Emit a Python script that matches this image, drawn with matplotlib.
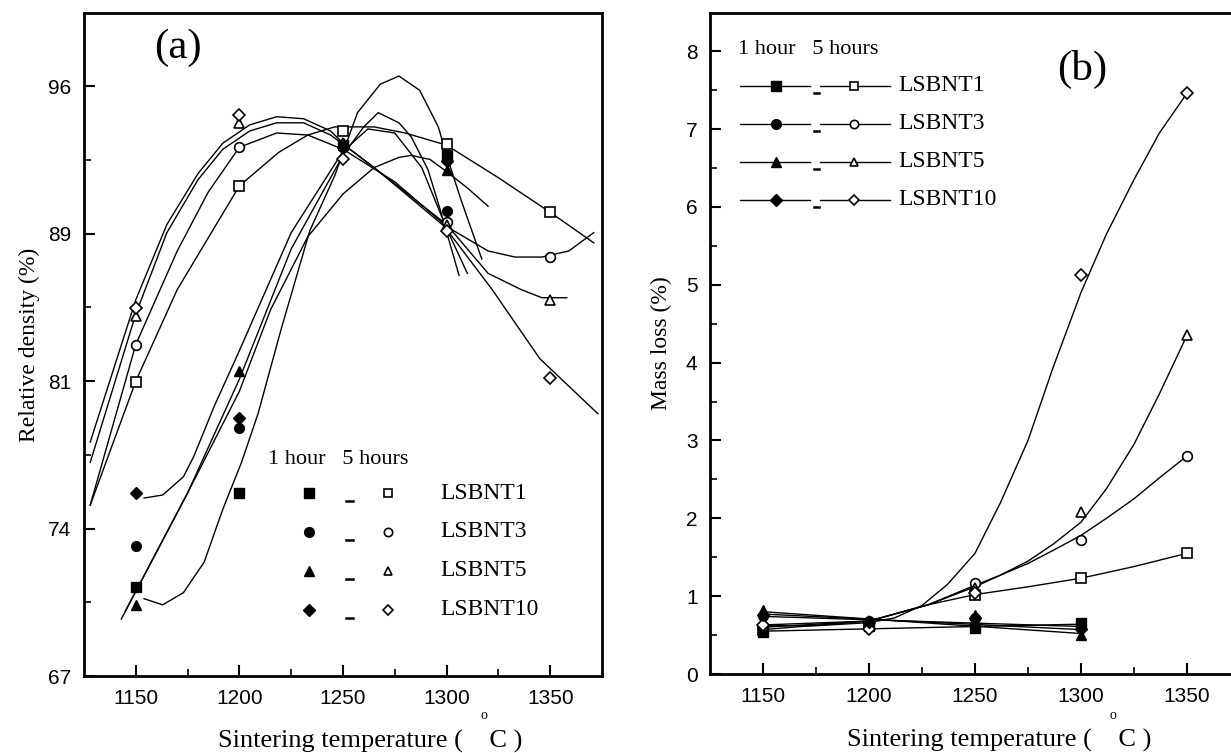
import numpy as np
import matplotlib
matplotlib.use("Agg")
import matplotlib.pyplot as plt
from matplotlib import font_manager

serif = ["Liberation Serif", "DejaVu Serif"]
names = {f.name for f in font_manager.fontManager.ttflist}
tick_font = "Liberation Sans Narrow" if "Liberation Sans Narrow" in names else "Liberation Sans"

# ---- data ----
temps = [1150, 1200, 1250, 1300, 1350]
temps_1h = [1150, 1200, 1250, 1300]
names_s = ["LSBNT1", "LSBNT3", "LSBNT5", "LSBNT10"]
markers = ["s", "o", "^", "D"]

# (a) relative density (%)
dens_1h = {
    "LSBNT1": [71.4, 76.0, 93.1, 92.6],
    "LSBNT3": [73.4, 79.2, 93.0, 89.85],
    "LSBNT5": [70.5, 82.0, 93.2, 91.9],
    "LSBNT10": [76.0, 79.7, 93.0, 92.3],
}
dens_5h = {
    "LSBNT1": [81.45, 91.1, 93.8, 93.15, 89.8],
    "LSBNT3": [83.3, 93.0, 93.0, 89.3, 87.6],
    "LSBNT5": [84.7, 94.2, 93.2, 89.2, 85.5],
    "LSBNT10": [85.1, 94.6, 92.4, 88.9, 81.65],
}
# fitted curves of (a), vertices
fit_a_1h = {
    "LSBNT1": ([1154, 1163, 1173, 1183, 1192, 1201, 1209, 1220, 1234, 1246, 1257, 1268, 1277, 1287, 1296, 1300, 1307, 1317],
               [70.8, 70.5, 71.1, 72.6, 75.2, 77.5, 79.9, 84.0, 88.9, 91.6, 94.7, 96.1, 96.5, 95.8, 94.0, 92.6, 90.4, 87.5]),
    "LSBNT3": ([1145, 1175, 1200, 1225, 1250, 1260, 1267, 1277, 1283, 1291, 1297, 1306],
               [70.2, 76.0, 81.6, 88.0, 92.6, 94.0, 94.7, 94.2, 93.5, 91.9, 89.9, 86.7]),
    "LSBNT5": ([1143, 1175, 1200, 1215, 1233, 1250, 1265, 1277, 1283, 1292, 1300, 1310, 1320],
               [69.8, 76.0, 81.0, 85.0, 88.6, 90.7, 92.0, 92.5, 92.6, 92.4, 91.8, 91.0, 90.1]),
    "LSBNT10": ([1154, 1163, 1173, 1178, 1188, 1200, 1225, 1250, 1262, 1275, 1288, 1300, 1310],
                [75.75, 75.9, 76.8, 77.8, 80.3, 83.0, 88.8, 92.8, 93.9, 93.7, 92.0, 89.0, 86.8]),
}
fit_a_5h = {
    "LSBNT1": ([1128, 1150, 1170, 1200, 1219, 1233, 1246, 1265, 1280, 1300, 1325, 1350, 1371],
               [75.4, 81.5, 86.0, 91.1, 92.75, 93.6, 94.0, 94.0, 93.7, 93.1, 91.5, 89.8, 88.3]),
    "LSBNT3": ([1128, 1150, 1170, 1185, 1200, 1218, 1233, 1250, 1275, 1300, 1320, 1333, 1346, 1359, 1371],
               [75.4, 83.3, 87.9, 90.8, 93.0, 93.7, 93.6, 92.9, 91.3, 89.1, 87.9, 87.6, 87.6, 87.9, 88.8]),
    "LSBNT5": ([1128, 1150, 1165, 1180, 1192, 1205, 1218, 1231, 1244, 1256, 1270, 1285, 1300, 1320, 1336, 1346, 1358],
               [77.5, 84.8, 88.8, 91.4, 92.9, 93.8, 94.2, 94.2, 93.6, 92.7, 91.6, 90.4, 89.2, 86.8, 86.0, 85.6, 85.6]),
    "LSBNT10": ([1128, 1150, 1165, 1180, 1192, 1205, 1218, 1231, 1244, 1252, 1265, 1278, 1299, 1322, 1345, 1373],
                [78.5, 85.5, 89.2, 91.7, 93.2, 94.1, 94.5, 94.4, 93.8, 93.0, 92.0, 90.9, 89.1, 86.0, 82.6, 79.9]),
}

# (b) mass loss (%)
loss_1h = {
    "LSBNT1": [0.54, 0.62, 0.59, 0.65],
    "LSBNT3": [0.75, 0.68, 0.72, 0.60],
    "LSBNT5": [0.82, 0.68, 0.76, 0.50],
    "LSBNT10": [0.76, 0.67, 0.72, 0.58],
}
loss_5h = {
    "LSBNT1": [0.56, 0.64, 1.02, 1.23, 1.55],
    "LSBNT3": [0.62, 0.66, 1.17, 1.72, 2.80],
    "LSBNT5": [0.65, 0.68, 1.10, 2.08, 4.35],
    "LSBNT10": [0.63, 0.58, 1.04, 5.12, 7.46],
}
fit_b_1h = {
    "LSBNT1": ([1150, 1300], [0.55, 0.64]),
    "LSBNT3": ([1150, 1300], [0.77, 0.57]),
    "LSBNT5": ([1150, 1300], [0.80, 0.52]),
    "LSBNT10": ([1150, 1300], [0.74, 0.61]),
}
fit_b_5h = {
    "LSBNT1": ([1150, 1200, 1228, 1250, 1275, 1300, 1325, 1350],
               [0.57, 0.68, 0.89, 1.02, 1.12, 1.23, 1.38, 1.55]),
    "LSBNT3": ([1150, 1200, 1228, 1250, 1262, 1275, 1287, 1300, 1312, 1325, 1337, 1350],
               [0.60, 0.68, 0.89, 1.14, 1.27, 1.42, 1.59, 1.78, 2.0, 2.25, 2.52, 2.80]),
    "LSBNT5": ([1150, 1200, 1228, 1250, 1262, 1275, 1287, 1300, 1312, 1325, 1337, 1350],
               [0.63, 0.68, 0.89, 1.12, 1.27, 1.45, 1.67, 1.95, 2.38, 2.95, 3.6, 4.35]),
    "LSBNT10": ([1150, 1175, 1200, 1212, 1225, 1237, 1250, 1262, 1275, 1287, 1300, 1312, 1325, 1337, 1350],
                [0.62, 0.62, 0.66, 0.72, 0.88, 1.15, 1.55, 2.2, 3.0, 3.95, 4.9, 5.65, 6.35, 6.95, 7.46]),
}

# ---- figure ----
fig = plt.figure(figsize=(12.31, 7.53), dpi=100)
ax_a = fig.add_axes([84 / 1231, 1 - 676 / 753, 518 / 1231, 663 / 753])
ax_b = fig.add_axes([710 / 1231, 1 - 674 / 753, 530 / 1231, 661 / 753])

ms = 7
for ax in (ax_a, ax_b):
    for sp in ax.spines.values():
        sp.set_linewidth(2.0)
    ax.tick_params(direction="in", which="major", length=8, width=1.5, labelsize=15, pad=9)
    ax.tick_params(direction="in", which="minor", length=5, width=1.2)
    ax.set_xlim(1125, 1375)
    ax.set_xticks([1150, 1200, 1250, 1300, 1350])
    ax.set_xticks([1175, 1225, 1275, 1325], minor=True)
    for lab in ax.get_xticklabels() + ax.get_yticklabels():
        lab.set_fontfamily(tick_font)

# panel (a)
for n, m in zip(names_s, markers):
    ax_a.plot(*fit_a_5h[n], color="black", lw=1.0)
    ax_a.plot(*fit_a_1h[n], color="black", lw=1.0)
for n, m in zip(names_s, markers):
    msz = ms - 1 if m == "D" else ms
    ax_a.plot(temps, dens_5h[n], ls="none", marker=m, ms=msz, mfc="white", mec="black", mew=1.2)
    ax_a.plot(temps_1h, dens_1h[n], ls="none", marker=m, ms=msz, mfc="black", mec="black")

a_ticks = np.linspace(67, 96, 5)
ax_a.set_ylim(67, 99.6)
ax_a.set_yticks(a_ticks)
ax_a.set_yticklabels(["67", "74", "81", "89", "96"], fontfamily=tick_font)
ax_a.set_yticks((a_ticks[:-1] + a_ticks[1:]) / 2, minor=True)
ax_a.text(-0.105, 0.5, "Relative density (%)", transform=ax_a.transAxes, fontsize=17, family=serif,
          rotation=90, ha="center", va="center")
ax_a.text(0.552, -0.098, "Sintering temperature (    C )", transform=ax_a.transAxes, fontsize=19,
          family=serif, ha="center", va="center")
ax_a.text(0.772, -0.060, "o", transform=ax_a.transAxes, fontsize=10, family=serif, ha="center", va="center")
ax_a.text(0.181, 0.947, "(a)", transform=ax_a.transAxes, fontsize=31, family=serif, ha="center", va="center")

ax_a.text(0.355, 0.326, "1 hour   5 hours", transform=ax_a.transAxes, fontsize=16, family=serif, va="center")
for i, (n, m) in enumerate(zip(names_s, markers)):
    y = 0.276 - i * 0.0587
    msz = ms - 1 if m == "D" else ms
    ax_a.plot([0.434], [y], transform=ax_a.transAxes, ls="none", marker=m, ms=msz, mfc="black", mec="black")
    ax_a.plot([0.505, 0.519], [y - 0.012, y - 0.012], transform=ax_a.transAxes, color="black", lw=1.8)
    ax_a.plot([0.587], [y], transform=ax_a.transAxes, ls="none", marker=m, ms=msz - 1, mfc="white", mec="black", mew=1.2)
    ax_a.text(0.687, y, n, transform=ax_a.transAxes, fontsize=17, family=serif, va="center")

# panel (b)
for n, m in zip(names_s, markers):
    ax_b.plot(*fit_b_5h[n], color="black", lw=1.0)
    ax_b.plot(*fit_b_1h[n], color="black", lw=1.0)
for n, m in zip(names_s, markers):
    msz = ms - 1 if m == "D" else ms
    ax_b.plot(temps, loss_5h[n], ls="none", marker=m, ms=msz, mfc="white", mec="black", mew=1.2)
    ax_b.plot(temps_1h, loss_1h[n], ls="none", marker=m, ms=msz, mfc="black", mec="black")

ax_b.set_ylim(0, 8.49)
ax_b.set_yticks(range(0, 9))
ax_b.set_yticks(np.arange(0.5, 8.5, 1.0), minor=True)
for lab in ax_b.get_yticklabels():
    lab.set_fontfamily(tick_font)
ax_b.text(-0.091, 0.5, "Mass loss (%)", transform=ax_b.transAxes, fontsize=17, family=serif,
          rotation=90, ha="center", va="center")
ax_b.text(0.545, -0.1, "Sintering temperature (    C )", transform=ax_b.transAxes, fontsize=19,
          family=serif, ha="center", va="center")
ax_b.text(0.760, -0.0635, "o", transform=ax_b.transAxes, fontsize=10, family=serif, ha="center", va="center")
ax_b.text(0.702, 0.914, "(b)", transform=ax_b.transAxes, fontsize=31, family=serif, ha="center", va="center")

ax_b.text(0.053, 0.9455, "1 hour   5 hours", transform=ax_b.transAxes, fontsize=16, family=serif, va="center")
for i, (n, m) in enumerate(zip(names_s, markers)):
    y = 0.8896 - i * 0.0575
    msz = ms - 1 if m == "D" else ms
    ax_b.plot([0.057, 0.124, 0.189], [y, y, y], transform=ax_b.transAxes, color="black", lw=1.0,
              marker=m, markevery=[1], ms=msz, mfc="black", mec="black")
    ax_b.plot([0.196, 0.206], [y - 0.01, y - 0.01], transform=ax_b.transAxes, color="black", lw=1.8)
    ax_b.plot([0.208, 0.272, 0.34], [y, y, y], transform=ax_b.transAxes, color="black", lw=1.0,
              marker=m, markevery=[1], ms=msz - 1, mfc="white", mec="black", mew=1.2)
    ax_b.text(0.355, y, n, transform=ax_b.transAxes, fontsize=17, family=serif, va="center")

fig.savefig("out.png", dpi=100)
